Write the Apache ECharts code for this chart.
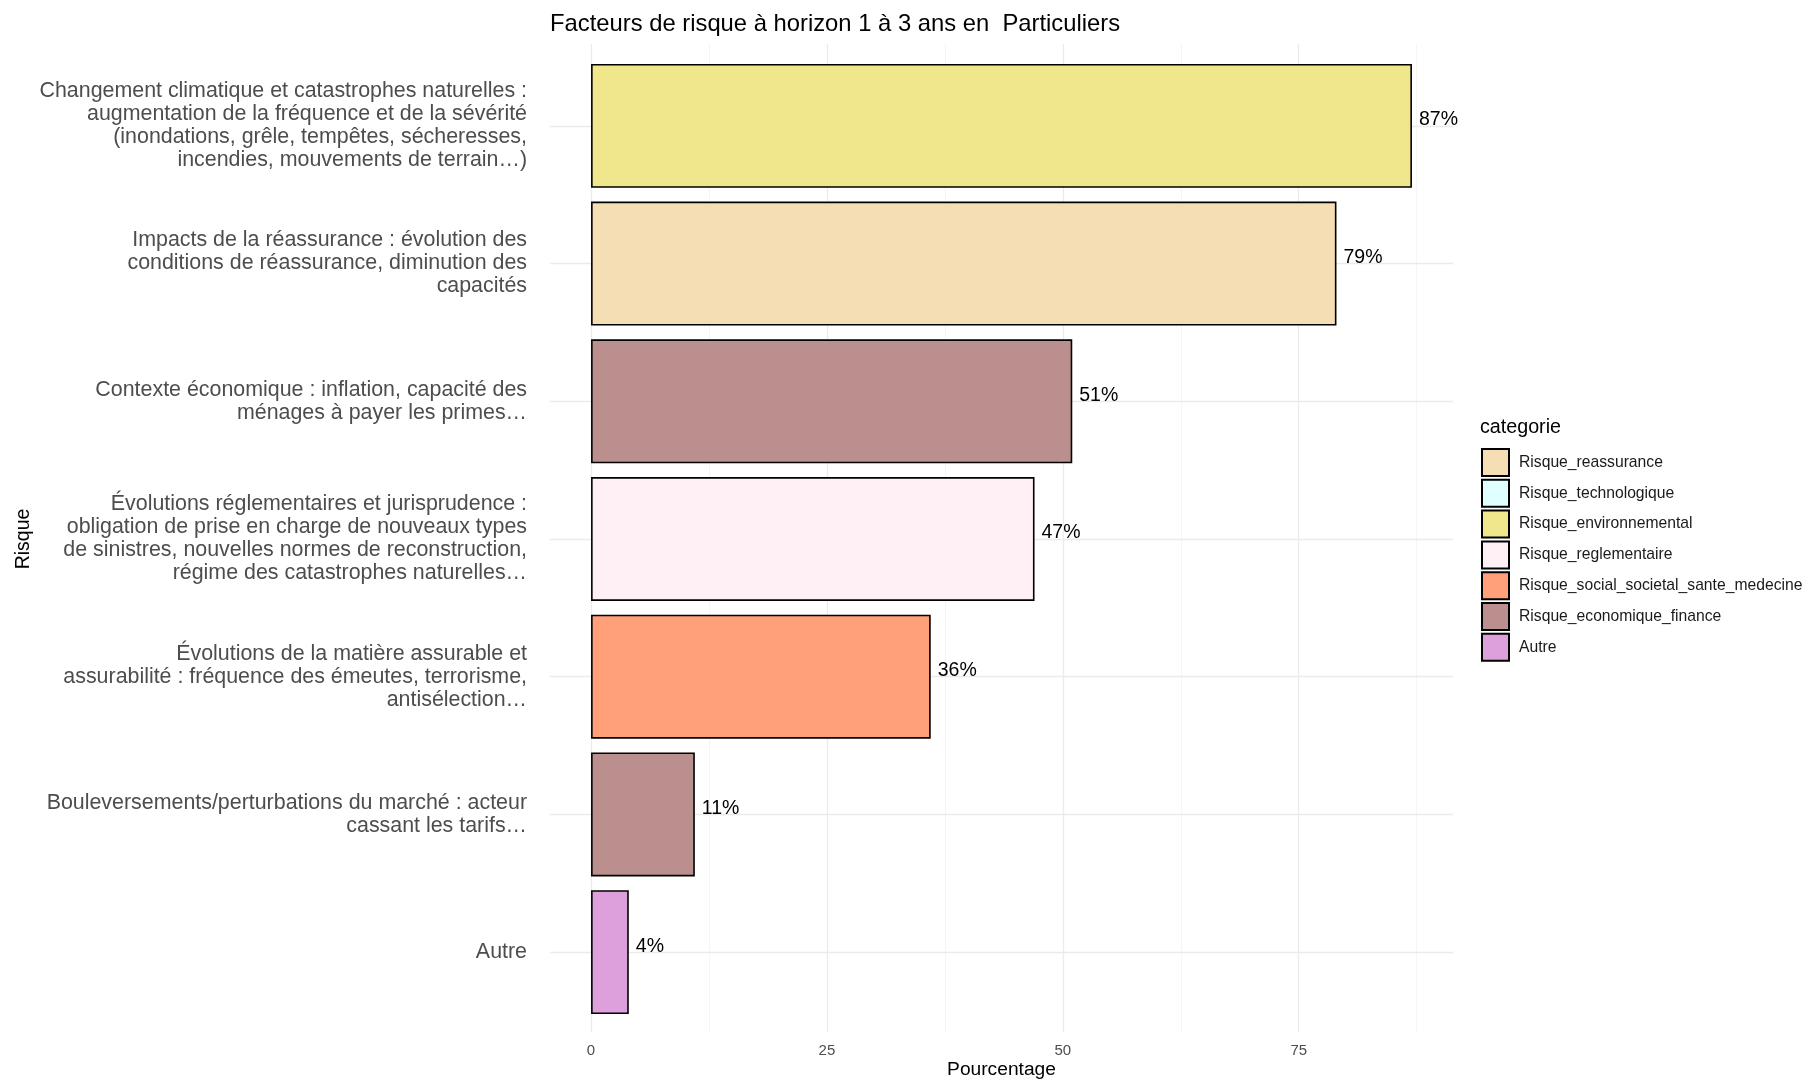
<!DOCTYPE html>
<html>
<head>
<meta charset="utf-8">
<script src="https://cdn.jsdelivr.net/npm/echarts@6/dist/echarts.min.js"></script>
<style>
  html, body { margin: 0; padding: 0; background: #fff; }
  #chart { width: 1805px; height: 1080px; }
</style>
</head>
<body>
<div id="chart"></div>
<script>
// libellés des risques (de haut en bas)
const risques = [
  'Changement climatique et catastrophes naturelles :\naugmentation de la fréquence et de la sévérité\n(inondations, grêle, tempêtes, sécheresses,\nincendies, mouvements de terrain…)',
  'Impacts de la réassurance : évolution des\nconditions de réassurance, diminution des\ncapacités',
  'Contexte économique : inflation, capacité des\nménages à payer les primes…',
  'Évolutions réglementaires et jurisprudence :\nobligation de prise en charge de nouveaux types\nde sinistres, nouvelles normes de reconstruction,\nrégime des catastrophes naturelles…',
  'Évolutions de la matière assurable et\nassurabilité : fréquence des émeutes, terrorisme,\nantisélection…',
  'Bouleversements/perturbations du marché : acteur\ncassant les tarifs…',
  'Autre'
];
const pourcentages = [87, 79, 51, 47, 36, 11, 4];
const categorieParRisque = [
  'Risque_environnemental',
  'Risque_reassurance',
  'Risque_economique_finance',
  'Risque_reglementaire',
  'Risque_social_societal_sante_medecine',
  'Risque_economique_finance',
  'Autre'
];
// ordre de la légende
const categories = [
  'Risque_reassurance',
  'Risque_technologique',
  'Risque_environnemental',
  'Risque_reglementaire',
  'Risque_social_societal_sante_medecine',
  'Risque_economique_finance',
  'Autre'
];
const couleurs = ['#F5DEB3', '#E0FFFF', '#F0E68C', '#FFF0F5', '#FFA07A', '#BC8F8F', '#DDA0DD'];
const gridMajeur = [0, 25, 50, 75];
const gridMineur = [12.5, 37.5, 62.5, 87.5];
const xMin = -4.35, xMax = 91.35;

const font = 'Liberation Sans, Arial, sans-serif';
const chart = echarts.init(document.getElementById('chart'));

const series = categories.map((cat, k) => ({
  name: cat,
  type: 'bar',
  stack: 'total',
  xAxisIndex: 0,
  yAxisIndex: 0,
  barWidth: '90%',
  z: 3,
  itemStyle: { color: couleurs[k], borderColor: '#000', borderWidth: 1.6 },
  label: {
    show: true,
    position: 'right',
    distance: 7,
    offset: [0, -6],
    formatter: '{c}%',
    color: '#000',
    fontSize: 19.5,
    fontFamily: font
  },
  data: pourcentages.map((v, i) => categorieParRisque[i] === cat ? v : '-')
}));

// lignes de grille (fond)
series.push({
  type: 'line',
  xAxisIndex: 1,
  yAxisIndex: 1,
  data: [],
  silent: true,
  z: 0,
  markLine: {
    silent: true,
    z: 0,
    symbol: 'none',
    label: { show: false },
    animation: false,
    data: gridMajeur.map(v => ({ xAxis: v, lineStyle: { color: '#ebebeb', width: 1.3, type: 'solid' } }))
      .concat(gridMineur.map(v => ({ xAxis: v, lineStyle: { color: '#f2f2f2', width: 0.8, type: 'solid' } })))
  }
});
series.push({
  type: 'line',
  xAxisIndex: 0,
  yAxisIndex: 0,
  data: [],
  silent: true,
  z: 0,
  markLine: {
    silent: true,
    z: 0,
    symbol: 'none',
    label: { show: false },
    animation: false,
    lineStyle: { color: '#ebebeb', width: 1.3, type: 'solid' },
    data: risques.map(r => ({ yAxis: r }))
  }
});

chart.setOption({
  animation: false,
  backgroundColor: '#fff',
  textStyle: { fontFamily: font },
  title: [
    {
      text: 'Facteurs de risque à horizon 1 à 3 ans en  Particuliers',
      left: 545,
      top: 7,
      textStyle: { fontSize: 23.8, fontWeight: 'normal', color: '#000', fontFamily: font }
    },
    {
      text: 'categorie',
      left: 1475,
      top: 413,
      textStyle: { fontSize: 19.7, fontWeight: 'normal', color: '#000', fontFamily: font }
    }
  ],
  legend: {
    orient: 'vertical',
    left: 1481,
    top: 448,
    padding: 0,
    icon: 'rect',
    itemWidth: 27,
    itemHeight: 27,
    itemGap: 1.8,
    data: categories,
    textStyle: { fontSize: 15.7, color: '#1a1a1a', fontFamily: font, padding: [0, 0, 0, 5] }
  },
  grid: [
    { left: 550, right: 352, top: 57, bottom: 59, outerBoundsMode: 'none' },
    { left: 550, right: 352, top: 44, bottom: 48, outerBoundsMode: 'none' }
  ],
  xAxis: [
    {
      type: 'value', gridIndex: 0, min: xMin, max: xMax,
      axisLine: { show: false }, axisTick: { show: false },
      axisLabel: { show: false }, splitLine: { show: false }
    },
    {
      type: 'value', gridIndex: 1, min: xMin, max: xMax,
      axisLine: { show: false }, axisTick: { show: false },
      splitLine: { show: false },
      axisLabel: {
        customValues: gridMajeur,
        margin: 11,
        fontSize: 15,
        color: '#4d4d4d',
        fontFamily: font
      },
      name: 'Pourcentage',
      nameLocation: 'middle',
      nameMoveOverlap: false,
      nameGap: 28,
      nameTextStyle: { fontSize: 19.2, color: '#000', fontFamily: font }
    }
  ],
  yAxis: [
    {
      type: 'category', gridIndex: 0, inverse: true, data: risques,
      axisLine: { show: false }, axisTick: { show: false },
      splitLine: { show: false },
      axisLabel: {
        margin: 23,
        fontSize: 21.4,
        lineHeight: 23,
        color: '#4d4d4d',
        align: 'right',
        fontFamily: font
      },
      name: 'Risque',
      nameLocation: 'middle',
      nameMoveOverlap: false,
      nameGap: 516,
      nameRotate: 90,
      nameTextStyle: { fontSize: 19.5, color: '#000', fontFamily: font }
    },
    {
      type: 'value', gridIndex: 1, min: 0, max: 1, show: false
    }
  ],
  series: series
});
</script>
</body>
</html>
